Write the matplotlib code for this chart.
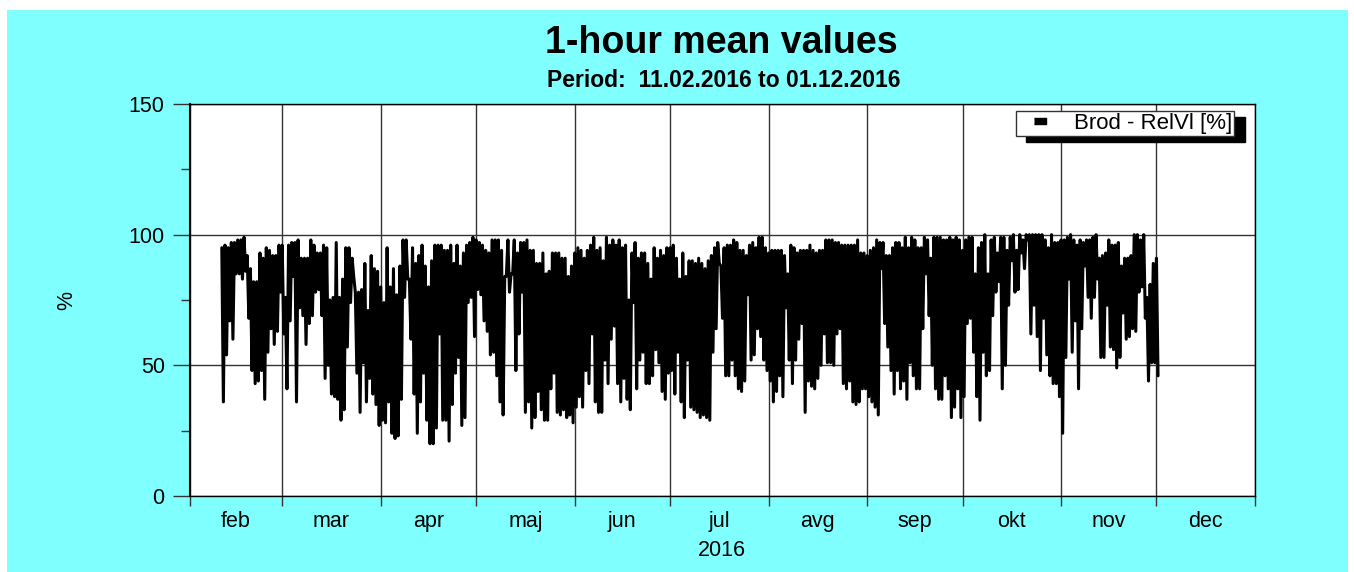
import matplotlib
matplotlib.use("Agg")
import matplotlib.pyplot as plt
from matplotlib.lines import Line2D
from matplotlib.patches import Rectangle
from matplotlib.ticker import FixedLocator, NullFormatter
import numpy as np

plt.rcParams['font.family'] = ['Liberation Sans', 'DejaVu Sans']

TITLE = "1-hour mean values"
SUBTITLE = "Period:  11.02.2016 to 01.12.2016"
SERIES = "Brod - RelVl [%]"
MONTHS = ["feb", "mar", "apr", "maj", "jun", "jul", "avg", "sep", "okt", "nov", "dec"]
# Days since 1 Feb 2016 at which each month starts (leap year), closing with 31 Dec
MONTH_EDGES = [0, 29, 60, 90, 121, 151, 182, 213, 243, 274, 304, 335]
FIRST_DAY = 10   # 11 Feb

# Daily highest and lowest relative humidity, %
daily_high = [
    95, 96, 95, 97, 97, 98, 98, 99, 92, 87, 82, 82, 93, 91, 95, 94, 92, 92, 96, 96,
    76, 96, 97, 97, 98, 91, 91, 91, 98, 96, 93, 93, 96, 95, 75, 76, 97, 76, 83, 95,
    95, 91, 78, 78, 79, 89, 71, 92, 87, 86, 80, 74, 95, 80, 87, 77, 88, 98, 98, 83,
    95, 89, 92, 96, 88, 80, 90, 96, 96, 96, 94, 94, 96, 89, 96, 88, 93, 96, 97, 99,
    98, 97, 96, 94, 93,
    98, 98, 98, 94, 84, 98, 85, 98, 93, 97, 97, 98, 94, 94, 89, 89, 93, 85, 86, 93,
    93, 93, 91, 91, 84, 88, 93, 95, 94, 91, 94, 96, 99, 94, 95, 90, 99, 96, 98, 96,
    98, 95, 96, 75, 93, 97, 91, 93, 93, 89, 83, 95, 91, 94, 92, 95, 95, 96, 91, 83,
    93, 84, 90, 90, 89, 91, 89, 87, 90, 92, 95, 97, 88, 95, 96, 96, 98, 97, 94, 94,
    92, 96, 97, 95, 99, 99, 95, 93, 94, 94, 94, 94, 92, 85,
    96, 95, 93, 94, 94, 94, 96, 94, 93, 94, 94, 98, 98, 98, 97, 97, 96, 96, 96, 96,
    96, 98, 93, 93, 92, 94, 95, 98, 97, 97, 92, 92, 95, 97, 97, 95, 99, 95, 99, 98,
    95, 95, 99, 98, 91, 99, 99, 99, 98, 98, 99, 98, 99, 98, 94, 98, 99, 99, 85, 95,
    97, 100, 85, 98, 99, 93, 99, 99, 94, 99, 100, 94, 100, 98, 100, 100, 100, 100, 100, 100,
    98, 95, 100, 97, 97, 98, 98, 99, 100, 98, 96, 98, 97, 98, 98,
    99, 100, 91, 92, 93, 98, 96, 96, 97, 88, 91, 91, 92, 100, 100, 98, 100, 76, 81, 89,
    91,
]
daily_low = [
    36, 54, 67, 60, 85, 85, 83, 86, 68, 48, 43, 44, 48, 37, 55, 64, 58, 63, 78, 62,
    41, 67, 84, 36, 72, 69, 58, 66, 69, 78, 79, 69, 45, 50, 39, 38, 37, 29, 33, 57,
    74, 84, 47, 32, 51, 36, 45, 39, 35, 27, 29, 28, 36, 24, 22, 23, 37, 76, 83, 60,
    39, 24, 36, 47, 29, 20, 20, 26, 62, 29, 29, 21, 35, 47, 53, 27, 30, 74, 76, 61,
    79, 77, 67, 63, 54,
    55, 46, 36, 31, 84, 78, 85, 48, 62, 78, 32, 36, 26, 30, 40, 33, 29, 29, 41, 47,
    32, 31, 33, 30, 31, 28, 34, 38, 34, 48, 43, 62, 36, 32, 32, 52, 43, 60, 65, 43,
    36, 45, 37, 33, 74, 41, 52, 55, 43, 43, 46, 56, 51, 40, 37, 47, 48, 39, 55, 36,
    30, 52, 34, 33, 32, 30, 31, 30, 29, 55, 64, 89, 68, 46, 46, 52, 46, 41, 40, 44,
    77, 52, 54, 64, 61, 52, 48, 44, 36, 40, 46, 38, 72, 52,
    43, 52, 60, 66, 32, 44, 42, 41, 45, 50, 62, 51, 51, 50, 62, 64, 43, 41, 44, 36,
    35, 36, 41, 41, 38, 36, 34, 31, 87, 66, 57, 48, 39, 48, 41, 44, 37, 51, 46, 41,
    41, 64, 85, 69, 50, 41, 37, 37, 46, 41, 30, 34, 41, 30, 38, 66, 68, 55, 38, 29,
    55, 46, 48, 69, 78, 82, 41, 50, 73, 90, 78, 79, 93, 87, 98, 62, 73, 61, 48, 68,
    54, 46, 43, 43, 38, 24, 53, 83, 55, 67, 41, 64, 88, 76, 68,
    76, 83, 53, 53, 73, 57, 56, 49, 53, 70, 60, 61, 64, 63, 78, 80, 68, 44, 51, 51,
    46,
]


def px_x(px):
    return px / 1354


def px_y(px):
    return 1 - px / 572


fig = plt.figure(figsize=(13.54, 5.72), dpi=100, facecolor="white")
fig.patches.append(Rectangle((px_x(7), 0), px_x(1348 - 7), px_y(10),
                             transform=fig.transFigure, facecolor="#80FFFF",
                             edgecolor="none", zorder=-5))

ax = fig.add_axes([px_x(190), 1 - 496 / 572, 1065 / 1354, 392 / 572], facecolor="white")

days = np.arange(len(daily_high)) + FIRST_DAY
x = np.column_stack([days, days + 0.5]).ravel()
y = np.column_stack([daily_high, daily_low]).ravel()
ax.plot(x, y, color="black", lw=2.2, solid_joinstyle="round", solid_capstyle="round", zorder=3)

ax.set_xlim(MONTH_EDGES[0], MONTH_EDGES[-1])
ax.set_ylim(0, 150)

LABEL_SIZE = 15.5
ax.xaxis.set_major_locator(FixedLocator(MONTH_EDGES))
ax.xaxis.set_major_formatter(NullFormatter())
centers = [(a + b) / 2 for a, b in zip(MONTH_EDGES[:-1], MONTH_EDGES[1:])]
ax.xaxis.set_minor_locator(FixedLocator(centers))
ax.set_xticklabels(MONTHS, minor=True, fontsize=LABEL_SIZE)
ax.tick_params(axis="x", which="minor", length=0, pad=11, colors="black")
ax.tick_params(axis="x", which="major", length=7.2, width=1, color="#333333")

ax.set_yticks([0, 50, 100, 150])
ax.set_yticklabels(["0", "50", "100", "150"], fontsize=LABEL_SIZE)
ax.set_yticks([25, 75, 125], minor=True)
ax.tick_params(axis="y", which="major", length=12.2, width=1, pad=6, color="#333333")
ax.tick_params(axis="y", which="minor", length=6.5, width=1, color="#333333")

ax.grid(True, which="major", color="#333333", lw=1, zorder=1)
ax.set_axisbelow(True)
for side in ("bottom", "top", "right"):
    ax.spines[side].set_linewidth(1)
    ax.spines[side].set_color("black")
ax.spines["left"].set_linewidth(1.5)

fig.text(px_x(721.5), px_y(53), TITLE, ha="center", va="baseline", fontsize=27, fontweight="bold")
fig.text(px_x(724), px_y(87), SUBTITLE, ha="center", va="baseline", fontsize=16.5, fontweight="bold")
fig.text(px_x(722), px_y(550), "2016", ha="center", va="center", fontsize=LABEL_SIZE)
fig.text(px_x(67), px_y(300), "%", ha="center", va="center", rotation=90, fontsize=LABEL_SIZE)

handle = Line2D([], [], color="black", marker=[(-2.5, -1.2), (2.5, -1.2), (2.5, 1.2), (-2.5, 1.2)],
                markersize=8, linestyle="none")
leg = ax.legend([handle], [SERIES], loc="upper left",
                bbox_to_anchor=((1016 - 190) / 1065, (496 - 111) / 392),
                borderaxespad=0, fontsize=16, fancybox=False, framealpha=1,
                edgecolor="#333333", handletextpad=0.5, borderpad=0.1,
                shadow={"ox": 7.5, "oy": -4.3, "facecolor": "black", "edgecolor": "black", "alpha": 1})
leg.set_zorder(6)

fig.savefig("out.png", dpi=100)
